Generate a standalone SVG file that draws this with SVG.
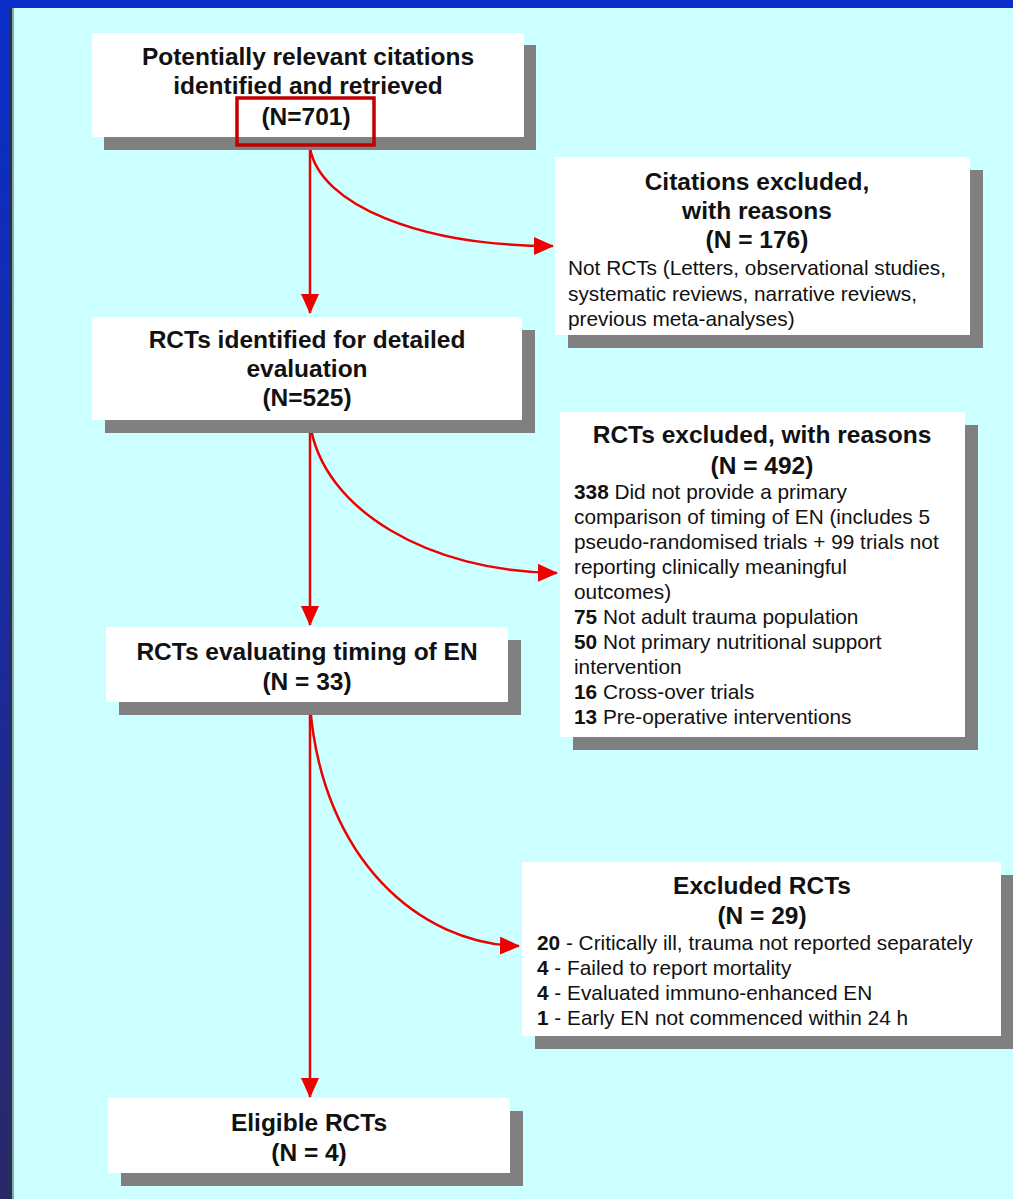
<svg xmlns="http://www.w3.org/2000/svg" width="1013" height="1199" viewBox="0 0 1013 1199">
<defs>
<linearGradient id="lb" x1="0" y1="0" x2="0" y2="1">
<stop offset="0" stop-color="#0a2ec8"/>
<stop offset="0.5" stop-color="#1a2aa0"/>
<stop offset="1" stop-color="#2a2868"/>
</linearGradient>
<marker id="ah2" viewBox="0 0 20 18" refX="19" refY="9" markerWidth="20" markerHeight="18" markerUnits="userSpaceOnUse" orient="auto">
<path d="M0,0 L20,9 L0,18 z" fill="#ee0000"/>
</marker>
</defs>
<style>
.sh{fill:#808080}
.bx{fill:#ffffff}
.t{font-family:"Liberation Sans",Arial,sans-serif;fill:#111111}
.h{font-size:24.5px;font-weight:bold;text-anchor:middle}
.b{font-size:20.8px}
.bb{font-weight:bold}
.c{fill:none;stroke:#ee0000;stroke-width:2.5}
</style>
<rect width="1013" height="1199" fill="#ccffff"/>
<rect x="0" y="0" width="1013" height="8" fill="#0a2ec8"/>
<rect x="0" y="0" width="10" height="1199" fill="url(#lb)"/>
<rect x="10" y="8" width="2" height="1191" fill="#223344"/>
<rect x="12" y="8" width="2" height="1191" fill="#8aa6b0"/>

<g id="connectors">
<path class="c" d="M310,146 L310,313" marker-end="url(#ah2)"/>
<path class="c" d="M310,148 C320,205 420,246 553,246" marker-end="url(#ah2)"/>
<path class="c" d="M310,421 L310,625" marker-end="url(#ah2)"/>
<path class="c" d="M310,423 C322,510 430,572 557,573" marker-end="url(#ah2)"/>
<path class="c" d="M310,703 L310,1097" marker-end="url(#ah2)"/>
<path class="c" d="M310,705 C322,860 420,944 519,946" marker-end="url(#ah2)"/>
</g>

<g id="n1">
<rect class="sh" x="104" y="45" width="432" height="105"/>
<rect class="bx" x="92" y="33" width="432" height="104"/>
<text class="t h" x="308" y="65">Potentially relevant citations</text>
<text class="t h" x="308" y="94">identified and retrieved</text>
<text class="t h" x="306" y="125">(N=701)</text>
<rect x="237" y="98" width="137" height="47" fill="none" stroke="#c00000" stroke-width="3.5"/>
</g>

<g id="n2">
<rect class="sh" x="568" y="170" width="415" height="178"/>
<rect class="bx" x="555" y="157" width="415" height="178"/>
<text class="t h" x="757" y="190">Citations excluded,</text>
<text class="t h" x="757" y="219">with reasons</text>
<text class="t h" x="757" y="248">(N = 176)</text>
<text class="t b" x="568" y="275">Not RCTs (Letters, observational studies,</text>
<text class="t b" x="568" y="301">systematic reviews, narrative reviews,</text>
<text class="t b" x="568" y="326">previous meta-analyses)</text>
</g>

<g id="n3">
<rect class="sh" x="105" y="330" width="430" height="103"/>
<rect class="bx" x="92" y="317" width="430" height="103"/>
<text class="t h" x="307" y="348">RCTs identified for detailed</text>
<text class="t h" x="307" y="377">evaluation</text>
<text class="t h" x="307" y="406">(N=525)</text>
</g>

<g id="n4">
<rect class="sh" x="573" y="425" width="405" height="325"/>
<rect class="bx" x="560" y="412" width="405" height="325"/>
<text class="t h" x="762" y="443">RCTs excluded, with reasons</text>
<text class="t h" x="762" y="474">(N = 492)</text>
<text class="t b" x="574" y="499"><tspan class="bb">338</tspan> Did not provide a primary</text>
<text class="t b" x="574" y="524">comparison of timing of EN (includes 5</text>
<text class="t b" x="574" y="549">pseudo-randomised trials + 99 trials not</text>
<text class="t b" x="574" y="574">reporting clinically meaningful</text>
<text class="t b" x="574" y="599">outcomes)</text>
<text class="t b" x="574" y="624"><tspan class="bb">75</tspan> Not adult trauma population</text>
<text class="t b" x="574" y="649"><tspan class="bb">50</tspan> Not primary nutritional support</text>
<text class="t b" x="574" y="674">intervention</text>
<text class="t b" x="574" y="699"><tspan class="bb">16</tspan> Cross-over trials</text>
<text class="t b" x="574" y="724"><tspan class="bb">13</tspan> Pre-operative interventions</text>
</g>

<g id="n5">
<rect class="sh" x="119" y="640" width="402" height="75"/>
<rect class="bx" x="106" y="627" width="402" height="75"/>
<text class="t h" x="307" y="660">RCTs evaluating timing of EN</text>
<text class="t h" x="307" y="690">(N = 33)</text>
</g>

<g id="n6">
<rect class="sh" x="535" y="875" width="478" height="174"/>
<rect class="bx" x="522" y="862" width="479" height="174"/>
<text class="t h" x="762" y="894">Excluded RCTs</text>
<text class="t h" x="762" y="924">(N = 29)</text>
<text class="t b" x="537" y="950"><tspan class="bb">20</tspan> - Critically ill, trauma not reported separately</text>
<text class="t b" x="537" y="975"><tspan class="bb">4</tspan> - Failed to report mortality</text>
<text class="t b" x="537" y="1000"><tspan class="bb">4</tspan> - Evaluated immuno-enhanced EN</text>
<text class="t b" x="537" y="1025"><tspan class="bb">1</tspan> - Early EN not commenced within 24 h</text>
</g>

<g id="n7">
<rect class="sh" x="121" y="1111" width="402" height="75"/>
<rect class="bx" x="108" y="1098" width="402" height="75"/>
<text class="t h" x="309" y="1131">Eligible RCTs</text>
<text class="t h" x="309" y="1161">(N = 4)</text>
</g>
</svg>
